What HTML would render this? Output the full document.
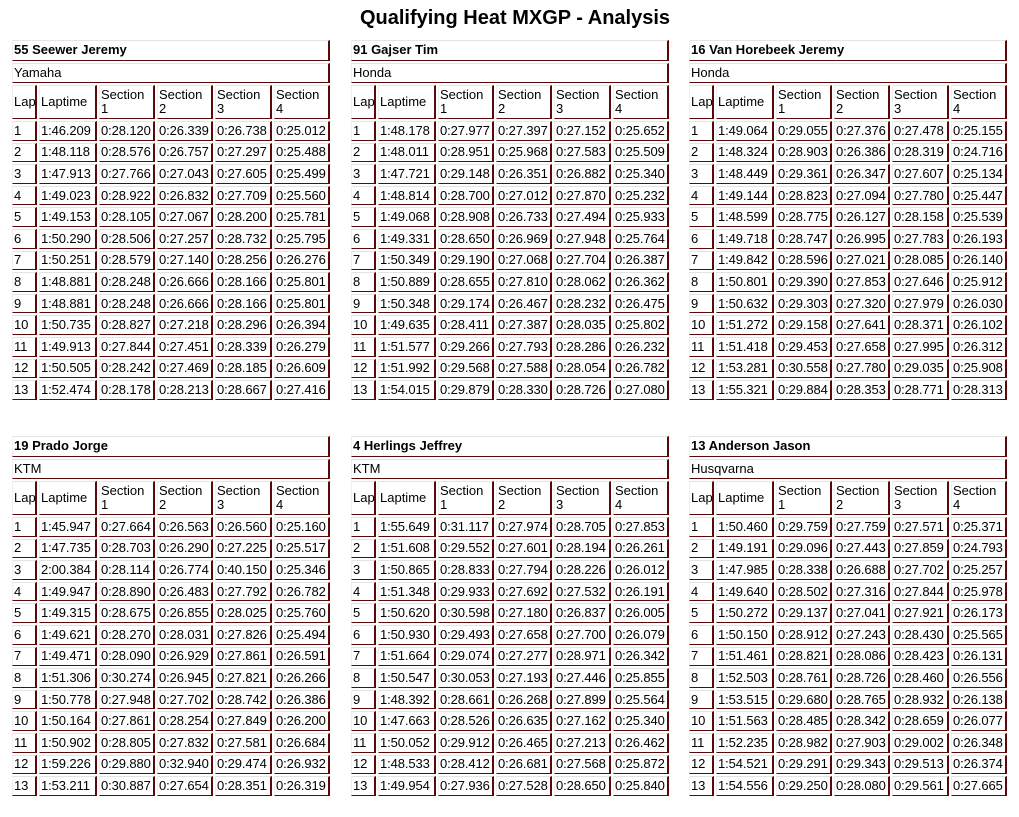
<!DOCTYPE html>
<html><head><meta charset="utf-8"><style>
body{margin:0;width:1019px;height:817px;background:#fff;font-family:"Liberation Sans",Arial,sans-serif;position:relative;overflow:hidden}
h1{position:absolute;left:0;top:6px;width:1030px;margin:0;text-align:center;font-size:20px;font-weight:bold;line-height:24px}
table{position:absolute;width:322px;border-collapse:separate;border-spacing:2px;table-layout:fixed;font-size:13px;letter-spacing:-0.1px}
td{box-sizing:border-box;border-top:1px solid #e4e4e4;border-left:1px solid #f0f0f0;border-right:2px solid #5a0808;border-bottom:1px solid #5a0808;padding:0 0 0 1px;height:19.6px;line-height:14px;white-space:nowrap;overflow:hidden}
td.n{font-weight:bold;height:20.5px;letter-spacing:0}
td.t{height:20.5px;letter-spacing:0}
tr.h td{height:34px;white-space:normal;line-height:14px;vertical-align:middle;letter-spacing:0}
</style></head><body>
<h1>Qualifying Heat MXGP - Analysis</h1>

<table style="left:10px;top:38px"><colgroup><col style="width:25px"><col style="width:58px"><col style="width:56px"><col style="width:56px"><col style="width:57px"><col style="width:56px"></colgroup>
<tr><td class="n" colspan="6">55 Seewer Jeremy</td></tr><tr><td class="t" colspan="6">Yamaha</td></tr>
<tr class="h"><td>Lap</td><td>Laptime</td><td>Section 1</td><td>Section 2</td><td>Section 3</td><td>Section 4</td></tr>
<tr><td>1</td><td>1:46.209</td><td>0:28.120</td><td>0:26.339</td><td>0:26.738</td><td>0:25.012</td></tr>
<tr><td>2</td><td>1:48.118</td><td>0:28.576</td><td>0:26.757</td><td>0:27.297</td><td>0:25.488</td></tr>
<tr><td>3</td><td>1:47.913</td><td>0:27.766</td><td>0:27.043</td><td>0:27.605</td><td>0:25.499</td></tr>
<tr><td>4</td><td>1:49.023</td><td>0:28.922</td><td>0:26.832</td><td>0:27.709</td><td>0:25.560</td></tr>
<tr><td>5</td><td>1:49.153</td><td>0:28.105</td><td>0:27.067</td><td>0:28.200</td><td>0:25.781</td></tr>
<tr><td>6</td><td>1:50.290</td><td>0:28.506</td><td>0:27.257</td><td>0:28.732</td><td>0:25.795</td></tr>
<tr><td>7</td><td>1:50.251</td><td>0:28.579</td><td>0:27.140</td><td>0:28.256</td><td>0:26.276</td></tr>
<tr><td>8</td><td>1:48.881</td><td>0:28.248</td><td>0:26.666</td><td>0:28.166</td><td>0:25.801</td></tr>
<tr><td>9</td><td>1:48.881</td><td>0:28.248</td><td>0:26.666</td><td>0:28.166</td><td>0:25.801</td></tr>
<tr><td>10</td><td>1:50.735</td><td>0:28.827</td><td>0:27.218</td><td>0:28.296</td><td>0:26.394</td></tr>
<tr><td>11</td><td>1:49.913</td><td>0:27.844</td><td>0:27.451</td><td>0:28.339</td><td>0:26.279</td></tr>
<tr><td>12</td><td>1:50.505</td><td>0:28.242</td><td>0:27.469</td><td>0:28.185</td><td>0:26.609</td></tr>
<tr><td>13</td><td>1:52.474</td><td>0:28.178</td><td>0:28.213</td><td>0:28.667</td><td>0:27.416</td></tr>
</table>

<table style="left:349px;top:38px"><colgroup><col style="width:25px"><col style="width:58px"><col style="width:56px"><col style="width:56px"><col style="width:57px"><col style="width:56px"></colgroup>
<tr><td class="n" colspan="6">91 Gajser Tim</td></tr><tr><td class="t" colspan="6">Honda</td></tr>
<tr class="h"><td>Lap</td><td>Laptime</td><td>Section 1</td><td>Section 2</td><td>Section 3</td><td>Section 4</td></tr>
<tr><td>1</td><td>1:48.178</td><td>0:27.977</td><td>0:27.397</td><td>0:27.152</td><td>0:25.652</td></tr>
<tr><td>2</td><td>1:48.011</td><td>0:28.951</td><td>0:25.968</td><td>0:27.583</td><td>0:25.509</td></tr>
<tr><td>3</td><td>1:47.721</td><td>0:29.148</td><td>0:26.351</td><td>0:26.882</td><td>0:25.340</td></tr>
<tr><td>4</td><td>1:48.814</td><td>0:28.700</td><td>0:27.012</td><td>0:27.870</td><td>0:25.232</td></tr>
<tr><td>5</td><td>1:49.068</td><td>0:28.908</td><td>0:26.733</td><td>0:27.494</td><td>0:25.933</td></tr>
<tr><td>6</td><td>1:49.331</td><td>0:28.650</td><td>0:26.969</td><td>0:27.948</td><td>0:25.764</td></tr>
<tr><td>7</td><td>1:50.349</td><td>0:29.190</td><td>0:27.068</td><td>0:27.704</td><td>0:26.387</td></tr>
<tr><td>8</td><td>1:50.889</td><td>0:28.655</td><td>0:27.810</td><td>0:28.062</td><td>0:26.362</td></tr>
<tr><td>9</td><td>1:50.348</td><td>0:29.174</td><td>0:26.467</td><td>0:28.232</td><td>0:26.475</td></tr>
<tr><td>10</td><td>1:49.635</td><td>0:28.411</td><td>0:27.387</td><td>0:28.035</td><td>0:25.802</td></tr>
<tr><td>11</td><td>1:51.577</td><td>0:29.266</td><td>0:27.793</td><td>0:28.286</td><td>0:26.232</td></tr>
<tr><td>12</td><td>1:51.992</td><td>0:29.568</td><td>0:27.588</td><td>0:28.054</td><td>0:26.782</td></tr>
<tr><td>13</td><td>1:54.015</td><td>0:29.879</td><td>0:28.330</td><td>0:28.726</td><td>0:27.080</td></tr>
</table>

<table style="left:687px;top:38px"><colgroup><col style="width:25px"><col style="width:58px"><col style="width:56px"><col style="width:56px"><col style="width:57px"><col style="width:56px"></colgroup>
<tr><td class="n" colspan="6">16 Van Horebeek Jeremy</td></tr><tr><td class="t" colspan="6">Honda</td></tr>
<tr class="h"><td>Lap</td><td>Laptime</td><td>Section 1</td><td>Section 2</td><td>Section 3</td><td>Section 4</td></tr>
<tr><td>1</td><td>1:49.064</td><td>0:29.055</td><td>0:27.376</td><td>0:27.478</td><td>0:25.155</td></tr>
<tr><td>2</td><td>1:48.324</td><td>0:28.903</td><td>0:26.386</td><td>0:28.319</td><td>0:24.716</td></tr>
<tr><td>3</td><td>1:48.449</td><td>0:29.361</td><td>0:26.347</td><td>0:27.607</td><td>0:25.134</td></tr>
<tr><td>4</td><td>1:49.144</td><td>0:28.823</td><td>0:27.094</td><td>0:27.780</td><td>0:25.447</td></tr>
<tr><td>5</td><td>1:48.599</td><td>0:28.775</td><td>0:26.127</td><td>0:28.158</td><td>0:25.539</td></tr>
<tr><td>6</td><td>1:49.718</td><td>0:28.747</td><td>0:26.995</td><td>0:27.783</td><td>0:26.193</td></tr>
<tr><td>7</td><td>1:49.842</td><td>0:28.596</td><td>0:27.021</td><td>0:28.085</td><td>0:26.140</td></tr>
<tr><td>8</td><td>1:50.801</td><td>0:29.390</td><td>0:27.853</td><td>0:27.646</td><td>0:25.912</td></tr>
<tr><td>9</td><td>1:50.632</td><td>0:29.303</td><td>0:27.320</td><td>0:27.979</td><td>0:26.030</td></tr>
<tr><td>10</td><td>1:51.272</td><td>0:29.158</td><td>0:27.641</td><td>0:28.371</td><td>0:26.102</td></tr>
<tr><td>11</td><td>1:51.418</td><td>0:29.453</td><td>0:27.658</td><td>0:27.995</td><td>0:26.312</td></tr>
<tr><td>12</td><td>1:53.281</td><td>0:30.558</td><td>0:27.780</td><td>0:29.035</td><td>0:25.908</td></tr>
<tr><td>13</td><td>1:55.321</td><td>0:29.884</td><td>0:28.353</td><td>0:28.771</td><td>0:28.313</td></tr>
</table>

<table style="left:10px;top:434px"><colgroup><col style="width:25px"><col style="width:58px"><col style="width:56px"><col style="width:56px"><col style="width:57px"><col style="width:56px"></colgroup>
<tr><td class="n" colspan="6">19 Prado Jorge</td></tr><tr><td class="t" colspan="6">KTM</td></tr>
<tr class="h"><td>Lap</td><td>Laptime</td><td>Section 1</td><td>Section 2</td><td>Section 3</td><td>Section 4</td></tr>
<tr><td>1</td><td>1:45.947</td><td>0:27.664</td><td>0:26.563</td><td>0:26.560</td><td>0:25.160</td></tr>
<tr><td>2</td><td>1:47.735</td><td>0:28.703</td><td>0:26.290</td><td>0:27.225</td><td>0:25.517</td></tr>
<tr><td>3</td><td>2:00.384</td><td>0:28.114</td><td>0:26.774</td><td>0:40.150</td><td>0:25.346</td></tr>
<tr><td>4</td><td>1:49.947</td><td>0:28.890</td><td>0:26.483</td><td>0:27.792</td><td>0:26.782</td></tr>
<tr><td>5</td><td>1:49.315</td><td>0:28.675</td><td>0:26.855</td><td>0:28.025</td><td>0:25.760</td></tr>
<tr><td>6</td><td>1:49.621</td><td>0:28.270</td><td>0:28.031</td><td>0:27.826</td><td>0:25.494</td></tr>
<tr><td>7</td><td>1:49.471</td><td>0:28.090</td><td>0:26.929</td><td>0:27.861</td><td>0:26.591</td></tr>
<tr><td>8</td><td>1:51.306</td><td>0:30.274</td><td>0:26.945</td><td>0:27.821</td><td>0:26.266</td></tr>
<tr><td>9</td><td>1:50.778</td><td>0:27.948</td><td>0:27.702</td><td>0:28.742</td><td>0:26.386</td></tr>
<tr><td>10</td><td>1:50.164</td><td>0:27.861</td><td>0:28.254</td><td>0:27.849</td><td>0:26.200</td></tr>
<tr><td>11</td><td>1:50.902</td><td>0:28.805</td><td>0:27.832</td><td>0:27.581</td><td>0:26.684</td></tr>
<tr><td>12</td><td>1:59.226</td><td>0:29.880</td><td>0:32.940</td><td>0:29.474</td><td>0:26.932</td></tr>
<tr><td>13</td><td>1:53.211</td><td>0:30.887</td><td>0:27.654</td><td>0:28.351</td><td>0:26.319</td></tr>
</table>

<table style="left:349px;top:434px"><colgroup><col style="width:25px"><col style="width:58px"><col style="width:56px"><col style="width:56px"><col style="width:57px"><col style="width:56px"></colgroup>
<tr><td class="n" colspan="6">4 Herlings Jeffrey</td></tr><tr><td class="t" colspan="6">KTM</td></tr>
<tr class="h"><td>Lap</td><td>Laptime</td><td>Section 1</td><td>Section 2</td><td>Section 3</td><td>Section 4</td></tr>
<tr><td>1</td><td>1:55.649</td><td>0:31.117</td><td>0:27.974</td><td>0:28.705</td><td>0:27.853</td></tr>
<tr><td>2</td><td>1:51.608</td><td>0:29.552</td><td>0:27.601</td><td>0:28.194</td><td>0:26.261</td></tr>
<tr><td>3</td><td>1:50.865</td><td>0:28.833</td><td>0:27.794</td><td>0:28.226</td><td>0:26.012</td></tr>
<tr><td>4</td><td>1:51.348</td><td>0:29.933</td><td>0:27.692</td><td>0:27.532</td><td>0:26.191</td></tr>
<tr><td>5</td><td>1:50.620</td><td>0:30.598</td><td>0:27.180</td><td>0:26.837</td><td>0:26.005</td></tr>
<tr><td>6</td><td>1:50.930</td><td>0:29.493</td><td>0:27.658</td><td>0:27.700</td><td>0:26.079</td></tr>
<tr><td>7</td><td>1:51.664</td><td>0:29.074</td><td>0:27.277</td><td>0:28.971</td><td>0:26.342</td></tr>
<tr><td>8</td><td>1:50.547</td><td>0:30.053</td><td>0:27.193</td><td>0:27.446</td><td>0:25.855</td></tr>
<tr><td>9</td><td>1:48.392</td><td>0:28.661</td><td>0:26.268</td><td>0:27.899</td><td>0:25.564</td></tr>
<tr><td>10</td><td>1:47.663</td><td>0:28.526</td><td>0:26.635</td><td>0:27.162</td><td>0:25.340</td></tr>
<tr><td>11</td><td>1:50.052</td><td>0:29.912</td><td>0:26.465</td><td>0:27.213</td><td>0:26.462</td></tr>
<tr><td>12</td><td>1:48.533</td><td>0:28.412</td><td>0:26.681</td><td>0:27.568</td><td>0:25.872</td></tr>
<tr><td>13</td><td>1:49.954</td><td>0:27.936</td><td>0:27.528</td><td>0:28.650</td><td>0:25.840</td></tr>
</table>

<table style="left:687px;top:434px"><colgroup><col style="width:25px"><col style="width:58px"><col style="width:56px"><col style="width:56px"><col style="width:57px"><col style="width:56px"></colgroup>
<tr><td class="n" colspan="6">13 Anderson Jason</td></tr><tr><td class="t" colspan="6">Husqvarna</td></tr>
<tr class="h"><td>Lap</td><td>Laptime</td><td>Section 1</td><td>Section 2</td><td>Section 3</td><td>Section 4</td></tr>
<tr><td>1</td><td>1:50.460</td><td>0:29.759</td><td>0:27.759</td><td>0:27.571</td><td>0:25.371</td></tr>
<tr><td>2</td><td>1:49.191</td><td>0:29.096</td><td>0:27.443</td><td>0:27.859</td><td>0:24.793</td></tr>
<tr><td>3</td><td>1:47.985</td><td>0:28.338</td><td>0:26.688</td><td>0:27.702</td><td>0:25.257</td></tr>
<tr><td>4</td><td>1:49.640</td><td>0:28.502</td><td>0:27.316</td><td>0:27.844</td><td>0:25.978</td></tr>
<tr><td>5</td><td>1:50.272</td><td>0:29.137</td><td>0:27.041</td><td>0:27.921</td><td>0:26.173</td></tr>
<tr><td>6</td><td>1:50.150</td><td>0:28.912</td><td>0:27.243</td><td>0:28.430</td><td>0:25.565</td></tr>
<tr><td>7</td><td>1:51.461</td><td>0:28.821</td><td>0:28.086</td><td>0:28.423</td><td>0:26.131</td></tr>
<tr><td>8</td><td>1:52.503</td><td>0:28.761</td><td>0:28.726</td><td>0:28.460</td><td>0:26.556</td></tr>
<tr><td>9</td><td>1:53.515</td><td>0:29.680</td><td>0:28.765</td><td>0:28.932</td><td>0:26.138</td></tr>
<tr><td>10</td><td>1:51.563</td><td>0:28.485</td><td>0:28.342</td><td>0:28.659</td><td>0:26.077</td></tr>
<tr><td>11</td><td>1:52.235</td><td>0:28.982</td><td>0:27.903</td><td>0:29.002</td><td>0:26.348</td></tr>
<tr><td>12</td><td>1:54.521</td><td>0:29.291</td><td>0:29.343</td><td>0:29.513</td><td>0:26.374</td></tr>
<tr><td>13</td><td>1:54.556</td><td>0:29.250</td><td>0:28.080</td><td>0:29.561</td><td>0:27.665</td></tr>
</table>
</body></html>
